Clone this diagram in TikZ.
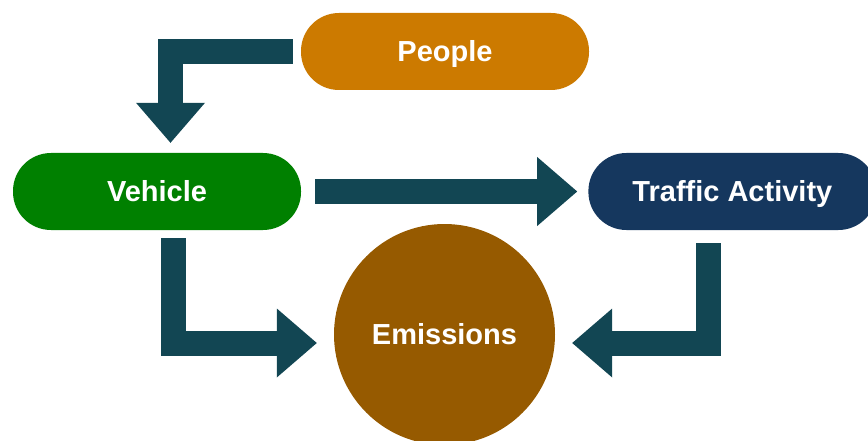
\documentclass[tikz,border=0pt]{standalone}
\usepackage{fontspec}
\setmainfont{Liberation Sans}
\usetikzlibrary{arrows.meta,positioning}

\definecolor{peopleOrange}{RGB}{204,122,0}
\definecolor{vehicleGreen}{RGB}{0,128,0}
\definecolor{trafficNavy}{RGB}{21,55,94}
\definecolor{emissionBrown}{RGB}{150,90,0}
\definecolor{flowTeal}{RGB}{18,70,83}

\begin{document}
\begin{tikzpicture}[x=1pt, y=-1pt,
  label text/.style={text=white, text height=20.8pt, text depth=0pt,
                     font=\fontsize{29}{34}\selectfont\bfseries},
  pill/.style={label text, rounded corners=38pt, minimum width=288pt,
               minimum height=77pt, inner sep=0pt},
  flow/.style={draw=flowTeal, line width=25pt,
               -{Triangle[length=40pt,width=69pt,line width=0pt]}}
]
  \useasboundingbox (0,0) rectangle (868,441);

  \node[pill, fill=peopleOrange]                       (people)   at (445,51.5)  {People};
  \node[pill, fill=vehicleGreen]                       (vehicle)  at (157,191.5) {Vehicle};
  \node[pill, fill=trafficNavy, right=287pt of vehicle] (traffic)  {Traffic Activity};
  \node[label text, circle, fill=emissionBrown, minimum size=221pt, inner sep=0pt]
                                                       (emissions) at (444.5,334.5) {Emissions};

  % block arrows between the boxes
  \draw[flow] ([xshift=-8pt]people.west) -| ([xshift=13.5pt,yshift=10pt]vehicle.north);
  \draw[flow] ([xshift=14pt]vehicle.east) -- ([xshift=-11pt]traffic.west);
  \draw[flow] ([xshift=16.5pt,yshift=-8pt]vehicle.south) |- ([xshift=-17pt,yshift=-8.5pt]emissions.west);
  \draw[flow] ([xshift=-23.5pt,yshift=-13pt]traffic.south) |- ([xshift=17pt,yshift=-8.5pt]emissions.east);
\end{tikzpicture}
\end{document}
